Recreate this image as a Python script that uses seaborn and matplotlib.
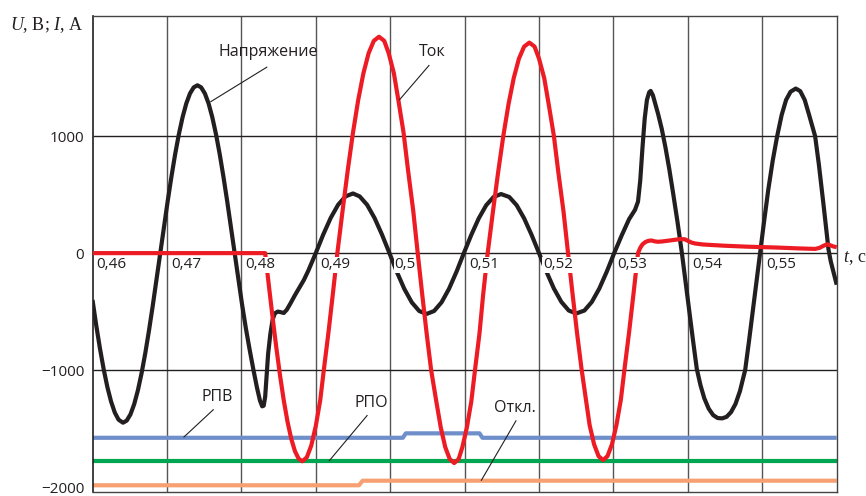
import matplotlib.pyplot as plt
import seaborn as sns

# ---- data --------------------------------------------------------------
# voltage (black), t in s, U in V
u_t = [0.4600, 0.4605, 0.4610, 0.4615, 0.4620, 0.4625, 0.4630, 0.4635, 0.4641,
       0.4646, 0.4651, 0.4656, 0.4661, 0.4666, 0.4671, 0.4676, 0.4681, 0.4686,
       0.4691, 0.4696, 0.4701, 0.4706, 0.4711, 0.4716, 0.4721, 0.4726, 0.4731,
       0.4736, 0.4741, 0.4746, 0.4751, 0.4756, 0.4761, 0.4766, 0.4771, 0.4776,
       0.4781, 0.4786, 0.4791, 0.4796, 0.4801, 0.4806, 0.4811, 0.4816, 0.4821,
       0.4825, 0.4828, 0.4830, 0.4832, 0.4834, 0.4836, 0.4839, 0.4842, 0.4845,
       0.4849, 0.4853, 0.4857, 0.4861, 0.4866, 0.4872, 0.4878, 0.4884, 0.4890,
       0.4895, 0.4900, 0.4910, 0.4920, 0.4930, 0.4940, 0.4950, 0.4959, 0.4969,
       0.4979, 0.4989, 0.4999, 0.5009, 0.5019, 0.5029, 0.5039, 0.5049, 0.5059,
       0.5069, 0.5079, 0.5089, 0.5099, 0.5109, 0.5119, 0.5129, 0.5139, 0.5149,
       0.5160, 0.5170, 0.5180, 0.5190, 0.5200, 0.5210, 0.5220, 0.5230, 0.5240,
       0.5250, 0.5261, 0.5271, 0.5281, 0.5291, 0.5301, 0.5311, 0.5321, 0.5329,
       0.5333, 0.5336, 0.5339, 0.5342, 0.5345, 0.5348, 0.5350, 0.5353, 0.5356,
       0.5360, 0.5365, 0.5370, 0.5375, 0.5380, 0.5386, 0.5392, 0.5397, 0.5402,
       0.5407, 0.5412, 0.5417, 0.5422, 0.5428, 0.5434, 0.5440, 0.5446, 0.5452,
       0.5458, 0.5464, 0.5470, 0.5477, 0.5482, 0.5487, 0.5492, 0.5497, 0.5502,
       0.5508, 0.5514, 0.5520, 0.5526, 0.5532, 0.5538, 0.5545, 0.5551, 0.5557,
       0.5563, 0.5571, 0.5576, 0.5582, 0.5586, 0.5589, 0.5592, 0.5596, 0.5600]
u_v = [-400, -617, -815, -992, -1146, -1270, -1364, -1424, -1450,
       -1432, -1379, -1292, -1173, -1025, -853, -658, -448, -226,
       0, 224, 443, 651, 844, 1015, 1161, 1279, 1365,
       1417, 1435, 1417, 1365, 1279, 1161, 1015, 844, 651,
       443, 224, 0, -220, -440, -640, -820, -990, -1150,
       -1260, -1310, -1305, -1230, -1050, -860, -690, -570, -515,
       -500, -505, -512, -485, -430, -360, -295, -230, -150,
       -75, 0, 158, 300, 413, 485, 510, 485, 413,
       300, 158, 0, -161, -306, -421, -495, -520, -495,
       -421, -306, -161, 0, 156, 297, 409, 480, 505,
       480, 409, 297, 156, 0, -159, -303, -417, -491,
       -516, -491, -417, -303, -159, 0, 150, 290, 370,
       440, 620, 900, 1150, 1310, 1375, 1387, 1350, 1280,
       1190, 1060, 900, 720, 520, 270, 0, -250, -500,
       -750, -990, -1130, -1240, -1330, -1385, -1410, -1413, -1400,
       -1360, -1290, -1180, -1000, -760, -510, -255, 0, 250,
       540, 790, 1000, 1180, 1310, 1380, 1407, 1385, 1310,
       1180, 1000, 760, 430, 200, 30, -70, -170, -270]

# current (red), I in A
i_t = [0.4600, 0.4832, 0.4837, 0.4842, 0.4847, 0.4852, 0.4857, 0.4862, 0.4867,
       0.4872, 0.4877, 0.4882, 0.4888, 0.4894, 0.4900, 0.4906, 0.4911, 0.4917,
       0.4923, 0.4929, 0.4936, 0.4943, 0.4950, 0.4957, 0.4964, 0.4971, 0.4978,
       0.4985, 0.4992, 0.4998, 0.5005, 0.5011, 0.5018, 0.5024, 0.5031, 0.5037,
       0.5043, 0.5049, 0.5055, 0.5062, 0.5068, 0.5074, 0.5080, 0.5086, 0.5092,
       0.5097, 0.5103, 0.5109, 0.5114, 0.5120, 0.5125, 0.5131, 0.5138, 0.5145,
       0.5152, 0.5159, 0.5166, 0.5173, 0.5180, 0.5187, 0.5194, 0.5200, 0.5207,
       0.5213, 0.5220, 0.5226, 0.5233, 0.5239, 0.5245, 0.5251, 0.5257, 0.5263,
       0.5268, 0.5274, 0.5280, 0.5286, 0.5292, 0.5298, 0.5304, 0.5310, 0.5315,
       0.5321, 0.5327, 0.5333, 0.5336, 0.5339, 0.5343, 0.5347, 0.5351, 0.5356,
       0.5360, 0.5366, 0.5372, 0.5378, 0.5384, 0.5390, 0.5396, 0.5400, 0.5405,
       0.5410, 0.5420, 0.5430, 0.5450, 0.5480, 0.5518, 0.5550, 0.5571, 0.5577,
       0.5582, 0.5587, 0.5591, 0.5595, 0.5600]
i_v = [0, 0, -278, -550, -808, -1047, -1259, -1440, -1586,
       -1693, -1758, -1780, -1746, -1645, -1479, -1258, -990, -682,
       -347, 0, 361, 709, 1029, 1308, 1537, 1709, 1815,
       1850, 1815, 1709, 1537, 1308, 1029, 709, 361, 0,
       -350, -687, -998, -1269, -1492, -1659, -1761, -1795, -1761,
       -1659, -1492, -1269, -998, -687, -350, 0, 351, 689,
       1001, 1273, 1496, 1663, 1766, 1800, 1766, 1663, 1496,
       1273, 1001, 689, 351, 0, -345, -678, -984, -1251,
       -1471, -1635, -1736, -1770, -1736, -1635, -1471, -1251, -984,
       -678, -345, 0, 45, 75, 95, 105, 108, 100,
       97, 100, 105, 110, 115, 120, 118, 105, 90,
       82, 74, 70, 63, 55, 48, 40, 36, 45,
       62, 75, 68, 58, 50]

# relay / breaker status traces (offset levels on the same axis)
rpv_t = [0.46, 0.5017, 0.5021, 0.5120, 0.5124, 0.56]
rpv_v = [-1579, -1579, -1541, -1541, -1579, -1579]
rpo_t = [0.46, 0.56]
rpo_v = [-1778, -1778]
otkl_t = [0.46, 0.4958, 0.4963, 0.56]
otkl_v = [-1985, -1985, -1946, -1946]

grid_t = [0.46, 0.47, 0.48, 0.49, 0.50, 0.51, 0.52, 0.53, 0.54, 0.55]
grid_labels = ["0,46", "0,47", "0,48", "0,49", "0,5", "0,51", "0,52", "0,53", "0,54", "0,55"]
y_ticks = [-2000, -1000, 0, 1000]
y_labels = ["\u22122000", "\u22121000", "0", "1000"]

# ---- style ---------------------------------------------------------------
sns.set_style("white")
plt.rcParams["font.family"] = ["Open Sans", "DejaVu Sans"]
plt.rcParams["mathtext.fontset"] = "custom"
plt.rcParams["mathtext.it"] = "Liberation Serif:italic"
plt.rcParams["mathtext.rm"] = "Liberation Serif"
plt.rcParams["lines.solid_joinstyle"] = "round"
plt.rcParams["lines.solid_capstyle"] = "butt"

BLACK = "#231f20"
RED = "#ed1c24"
BLUE = "#6f8fcb"
GREEN = "#00a651"
ORANGE = "#f7a072"
GRID = "#555555"
FS = 11

fig = plt.figure(figsize=(8.66, 4.96), dpi=100)
ax = fig.add_axes([92.5 / 866, 1 - 491.7 / 496, (836.7 - 92.5) / 866, (491.7 - 15.7) / 496])

# grid
for t in grid_t[1:]:
    ax.axvline(t, color=GRID, lw=1.0, zorder=1)
for v in [-1000, 0, 1000]:
    ax.axhline(v, color=BLACK, lw=1.0, zorder=1)

# status traces
sns.lineplot(x=rpv_t, y=rpv_v, ax=ax, color=BLUE, lw=3, estimator=None, sort=False, zorder=2)
sns.lineplot(x=rpo_t, y=rpo_v, ax=ax, color=GREEN, lw=3, estimator=None, sort=False, zorder=2)
sns.lineplot(x=otkl_t, y=otkl_v, ax=ax, color=ORANGE, lw=3, estimator=None, sort=False, zorder=2)

# main waveforms
sns.lineplot(x=u_t, y=u_v, ax=ax, color=BLACK, lw=3, estimator=None, sort=False, zorder=3)
sns.lineplot(x=i_t, y=i_v, ax=ax, color=RED, lw=3, estimator=None, sort=False, zorder=4)

ax.set_xlim(0.46, 0.56)
ax.set_ylim(-2040, 2030)
ax.set_xticks([])
ax.set_yticks(y_ticks)
ax.set_yticklabels(y_labels, fontsize=FS, color=BLACK)
ax.tick_params(axis="y", length=0, pad=6)
ax.set_xlabel("")
ax.set_ylabel("")
for side in ["top", "right", "bottom"]:
    ax.spines[side].set_color("#444444")
    ax.spines[side].set_linewidth(1.0)
ax.spines["left"].set_color(BLACK)
ax.spines["left"].set_linewidth(1.2)

# time labels inside the plot, under the zero line
for t, lab in zip(grid_t, grid_labels):
    ax.annotate(lab, xy=(t, 0), xytext=(3, -3), textcoords="offset points",
                ha="left", va="top", fontsize=FS, color=BLACK, zorder=5,
                bbox=dict(boxstyle="square,pad=0.05", fc="white", ec="none"))

# callouts with leader lines
callouts = [
    ("Напряжение", (0.47584, 1293), (0.48348, 1592), (0.48365, 1720)),
    ("Ток", (0.50121, 1308), (0.50526, 1608), (0.50569, 1720)),
    ("РПВ", (0.47224, -1575), (0.47628, -1336), (0.47674, -1234)),
    ("РПО", (0.49178, -1778), (0.49695, -1385), (0.4974, -1285)),
    ("Откл.", (0.51222, -1946), (0.51694, -1430), (0.5168, -1328)),
]
for text, p0, p1, pt in callouts:
    ax.plot([p0[0], p1[0]], [p0[1], p1[1]], color=BLACK, lw=0.8, zorder=6)
    ax.text(pt[0], pt[1], text, ha="center", va="center", fontsize=11.5, color=BLACK, zorder=6)

# axis titles
fig.text(10 / 866, 1 - 25 / 496, r"$\mathit{U}$, B; $\mathit{I}$, A", ha="left", va="center",
         fontsize=13, family="Liberation Serif", color=BLACK)
fig.text(843 / 866, 1 - 258 / 496, r"$\mathit{t}$, c", ha="left", va="center",
         fontsize=13, family="Liberation Serif", color=BLACK)

fig.savefig("out.png", dpi=100)
